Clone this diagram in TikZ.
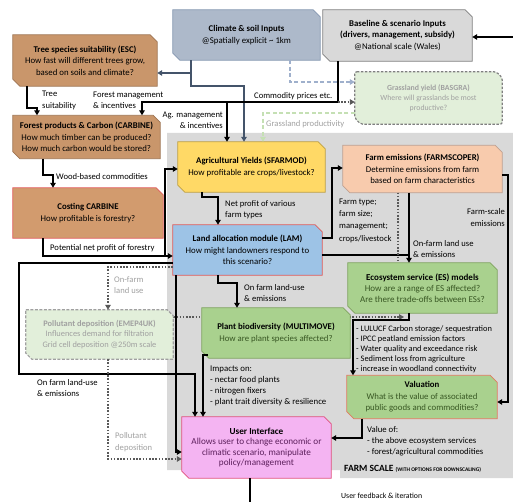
\documentclass[tikz,border=0pt]{standalone}
\usepackage{fontspec}
\setmainfont{Carlito}
\usetikzlibrary{arrows.meta,calc}
\pgfdeclarelayer{back}\pgfdeclarelayer{mid}\pgfsetlayers{back,mid,main}
\definecolor{climF}{HTML}{ADB9CA}\definecolor{climD}{HTML}{8497B0}
\definecolor{baseF}{HTML}{D9D9D9}\definecolor{baseD}{HTML}{7F7F7F}
\definecolor{treeF}{HTML}{C9966B}\definecolor{treeD}{HTML}{9E7452}
\definecolor{costF}{HTML}{D29B6E}\definecolor{redD}{HTML}{E05A5A}
\definecolor{yelF}{HTML}{FFD966}\definecolor{yelD}{HTML}{BFA040}
\definecolor{peachF}{HTML}{F8CBAD}\definecolor{peachD}{HTML}{C0A090}
\definecolor{lamF}{HTML}{9DC3E6}
\definecolor{grnF}{HTML}{A9D18E}\definecolor{grnD}{HTML}{7FA35E}
\definecolor{valD}{HTML}{E07A5F}
\definecolor{uiF}{HTML}{F4B4F2}\definecolor{uiD}{HTML}{E0507E}
\definecolor{paleF}{HTML}{E2EFDA}
\definecolor{farm}{HTML}{D9D9D9}
\definecolor{blueline}{HTML}{44546A}\definecolor{bluedash}{HTML}{9FB0CC}
\definecolor{greendash}{HTML}{C5E0B4}\definecolor{dotc}{HTML}{595959}
\definecolor{grtxt}{HTML}{A0A0A0}\definecolor{dgreen}{HTML}{385723}
\definecolor{dpurple}{HTML}{5C1F5C}
\newcommand\boxfont{\fontsize{8.8}{11.5}\selectfont}
\newcommand\lblfont{\fontsize{8.6}{11.5}\selectfont}
\newcommand\smallfont{\fontsize{8.4}{10.1}\selectfont}
\newcommand\cham[4]{%
 \path[#2] (#1.north west) -- ([xshift=-#3pt]#1.north east) -- ([yshift=-#3pt]#1.north east)
  -- (#1.south east) -- ([xshift=#4pt]#1.south west) -- ([yshift=#4pt]#1.south west) -- cycle;}
\begin{document}
\begin{tikzpicture}[x=1pt,y=-1pt,
 box/.style={rectangle, inner sep=0pt, align=center, font=\boxfont},
 lbl/.style={inner sep=0pt, align=left, anchor=west, font=\lblfont},
 rlbl/.style={inner sep=0pt, align=right, anchor=east, font=\lblfont},
 blk/.style={line width=1.8pt, draw=black},
 arr/.style={-{Triangle[length=5pt,width=5.5pt]}},
 bl/.style={line width=1.4pt, draw=blueline},
 bld/.style={line width=1.5pt, draw=bluedash, dash pattern=on 4pt off 2.5pt},
 gd/.style={line width=1.5pt, draw=greendash, dash pattern=on 4pt off 2.5pt},
 dot/.style={line width=1.6pt, draw=dotc, dash pattern=on 1.6pt off 1.6pt},
 solidbox/.style={line width=0.8pt},
]
\useasboundingbox (0,0) rectangle (513,502);

% ---------- boxes ----------
\node[box, minimum width=147pt, minimum height=50pt] (clim) at (246.5,35)
 {\textbf{Climate \& soil Inputs}\\@Spatially explicit \textasciitilde\ 1km};
\node[box, minimum width=149pt, minimum height=51pt] (base) at (397.5,35.5)
 {\textbf{Baseline \& scenario Inputs}\\\textbf{(drivers, management, subsidy)}\\@National scale (Wales)};
\node[box, minimum width=144pt, minimum height=51pt] (esc) at (85,60.5)
 {\textbf{Tree species suitability (ESC)}\\How fast will different trees grow,\\based on soils and climate?};
\node[box, minimum width=147pt, minimum height=43pt] (carb) at (86.5,137)
 {\textbf{Forest products \& Carbon (CARBINE)}\\How much timber can be produced?\\How much carbon would be stored?};
\node[box, minimum width=150pt, minimum height=50pt] (cost) at (88,213)
 {\textbf{Costing CARBINE}\\How profitable is forestry?};
\node[box, minimum width=147pt, minimum height=50pt] (sfar) at (251.5,167)
 {\textbf{Agricultural Yields (SFARMOD)}\\How profitable are crops/livestock?};
\node[box, minimum width=159pt, minimum height=47pt] (fems) at (422.5,169)
 {\textbf{Farm emissions (FARMSCOPER)}\\Determine emissions from farm\\based on farm characteristics};
\node[box, minimum width=149pt, minimum height=50pt] (lam) at (247.5,250)
 {\textbf{Land allocation module (LAM)}\\How might landowners respond to\\this scenario?};
\node[box, minimum width=149pt, minimum height=50pt, font=\fontsize{9}{11.2}\selectfont] (es) at (422.5,288)
 {\textbf{Ecosystem service (ES) models}\\\textcolor{dgreen}{How are a range of ES affected?}\\\textcolor{dgreen}{Are there trade-offs between ESs?}};
\node[box, minimum width=148pt, minimum height=50pt] (pb) at (276,333)
 {\textbf{Plant biodiversity (MULTIMOVE)}\\\textcolor{dgreen}{How are plant species affected?}};
\node[box, minimum width=150pt, minimum height=43pt] (val) at (422,397)
 {\textbf{Valuation}\\\textcolor{dgreen}{What is the value of associated}\\\textcolor{dgreen}{public goods and commodities?}};
\node[box, minimum width=149pt, minimum height=61pt, font=\fontsize{9.2}{10.6}\selectfont] (ui) at (256.5,447.5)
 {\textbf{User Interface}\\\textcolor{dpurple}{Allows user to change economic or}\\\textcolor{dpurple}{climatic scenario, manipulate}\\\textcolor{dpurple}{policy/management}};
\node[box, minimum width=147pt, minimum height=52pt, text=grtxt, font=\fontsize{7.8}{10.2}\selectfont] (grass) at (428.5,98)
 {\textbf{Grassland yield (BASGRA)}\\Where will grasslands be most\\productive?};
\node[box, minimum width=147pt, minimum height=49pt, text=grtxt, font=\fontsize{8.4}{10.8}\selectfont] (poll) at (99.5,334.5)
 {\textbf{Pollutant deposition (EMEP4UK)}\\Influences demand for filtration\\Grid cell deposition @250m scale};

\begin{pgfonlayer}{back}
 \fill[farm] (167,133) -- (513,133) -- (513,478) -- (340,478) -- (340,470) -- (167,470) -- cycle;
 \coordinate (x1) at (404,317);
 \draw[dot,arr] (poll.east |- x1) -- (x1);
\end{pgfonlayer}
\begin{pgfonlayer}{mid}
 \cham{clim}{fill=climF,draw=climD,solidbox}{7}{7}
 \cham{base}{fill=baseF,draw=baseD,solidbox}{7}{7}
 \cham{esc}{fill=treeF,draw=treeD,solidbox}{7}{7}
 \cham{carb}{fill=treeF,draw=treeD,solidbox}{7}{7}
 \cham{cost}{fill=costF,draw=redD,solidbox}{7}{0}
 \cham{sfar}{fill=yelF,draw=yelD,solidbox}{7}{7}
 \cham{fems}{fill=peachF,draw=peachD,solidbox}{7}{7}
 \cham{lam}{fill=lamF,draw=redD,solidbox}{7}{0}
 \cham{es}{fill=grnF,draw=grnD,solidbox}{7}{7}
 \cham{pb}{fill=grnF,draw=grnD,solidbox}{7}{7}
 \cham{val}{fill=grnF,draw=valD,solidbox}{7}{7}
 \cham{ui}{fill=uiF,draw=uiD,solidbox}{7}{7}
 \cham{grass}{fill=paleF,draw=baseD,line width=1.2pt,dash pattern=on 2.5pt off 1.5pt,rounded corners=2pt}{6}{6}
 \cham{poll}{fill=paleF,draw=grtxt,line width=1.2pt,dash pattern=on 3pt off 1.5pt}{6}{6}
\end{pgfonlayer}

% ---------- labels ----------
\node[lbl] (l1) at (42,100.5) {Tree\\suitability};
\node[lbl] (l2) at (93,100.5) {Forest management\\\& incentives};
\node[rlbl] (l3) at (223,120.5) {Ag. management\\\& incentives};
\node[lbl] (l4) at (254,96) {Commodity prices etc.};
\node[lbl, text=grtxt] (l5) at (266,124) {Grassland productivity};
\node[lbl] (l6) at (56,177) {Wood-based commodities};
\node[lbl] (l7) at (50,248) {Potential net profit of forestry};
\node[lbl] (l8) at (225,209.5) {Net profit of various\\farm types};
\node[lbl, font=\fontsize{8.6}{12.3}\selectfont] (l9) at (339,220.5) {Farm type;\\farm size;\\management;\\crops/livestock};
\node[lbl] (l10) at (413,249) {On-farm land use\\\& emissions};
\node[rlbl] (l11) at (505,217.5) {Farm-scale\\emissions};
\node[lbl] (l12) at (244,293) {On farm land-use\\\& emissions};
\node[lbl, text=grtxt] (l13) at (114,285) {On-farm\\land use};
\node[lbl] (l14) at (37,388) {On farm land-use\\\& emissions};
\node[lbl, text=grtxt] (l15) at (115,442) {Pollutant\\deposition};
\node[lbl, font=\fontsize{8.8}{10.8}\selectfont] (l16) at (210,386) {Impacts on:\\- nectar food plants\\- nitrogen fixers\\- plant trait diversity \& resilience};
\node[lbl, font=\smallfont] (l17) at (356,349) {- LULUCF Carbon storage/ sequestration\\- IPCC peatland emission factors\\- Water quality and exceedance risk\\- Sediment loss from agriculture\\- increase in woodland connectivity};
\node[lbl, font=\fontsize{8.7}{10.8}\selectfont] (l18) at (367,441) {Value of:\\- the above ecosystem services\\- forest/agricultural commodities};
\node[lbl] (l19) at (344,469) {\fontsize{9.5}{11}\selectfont\textbf{FARM SCALE} \fontsize{5.5}{6}\selectfont\textbf{(WITH OPTIONS FOR DOWNSCALING)}};
\node[lbl, font=\fontsize{7.8}{10}\selectfont] (l20) at (341,496) {User feedback \& iteration};

% ---------- connectors ----------
% climate
\coordinate (cb1) at (191,73); \coordinate (cb2) at (191,86); \coordinate (cb3) at (244,86);
\draw[bl,arr] (clim.south -| cb1) -- (cb1) -- (cb1 -| esc.east);
\draw[bl,arr] (cb1) -- (cb2) -- (cb3) -- (cb3 |- sfar.north);
\coordinate (cd1) at (290,82);
\draw[bld,arr] (clim.south -| cd1) -- (cd1) -- (cd1 -| grass.west);
% baseline
\coordinate (r1) at (513,37);
\draw[blk,arr] (r1) -- (r1 -| base.east);
\coordinate (k1) at (338,102); \coordinate (k2) at (142,102); \coordinate (k3) at (227,102);
\draw[blk,arr] (base.south -| k1) -- (k1) -- (k2) -- (k2 |- carb.north);
\draw[blk,arr] (k3) -- (k3 |- sfar.north);
\draw[dot,arr] (k1) -- (k1 -| grass.west);
% grassland
\coordinate (g1) at (263,113);
\draw[gd,arr] (g1 -| grass.west) -- (g1) -- (g1 |- sfar.north);
% forestry chain
\coordinate (t1) at (27,108); \coordinate (t2) at (37,108);
\draw[blk,arr] (esc.south -| t1) -- (t1) -- (t2) -- (t2 |- carb.north);
\coordinate (w1) at (43,175); \coordinate (w2) at (53,175);
\draw[blk,arr] (carb.south -| w1) -- (w1) -- (w2) -- (w2 |- cost.north);
\coordinate (p1) at (43,256); \coordinate (p2) at (165,256); \coordinate (p3) at (165,169);
\draw[blk,arr] (cost.south -| p1) -- (p1) -- (p1 -| lam.west);
\draw[blk,arr] (p2) -- (p3) -- (p3 -| sfar.west);
% sfarmod -> lam
\coordinate (n1) at (202,197); \coordinate (n2) at (218,197);
\draw[blk,arr] (sfar.south -| n1) -- (n1) -- (n2) -- (n2 |- lam.north);
% lam -> farm emissions
\coordinate (f1) at (332,238); \coordinate (f2) at (332,168);
\draw[blk,arr] (f1 -| lam.east) -- (f1) -- (f2) -- (f2 -| fems.west);
% lam -> ES, fems -> ES
\coordinate (e1) at (409,255);
\draw[blk,arr] (e1 -| lam.east) -- (e1) -- (e1 |- es.north);
\draw[blk] (fems.south -| e1) -- (e1);
\coordinate (d1) at (398,200);
\draw[dot] (fems.south -| d1) -- (d1 |- es.north);
% farm-scale emissions -> valuation
\coordinate (fs1) at (508,175); \coordinate (fs2) at (508,402);
\draw[blk,arr] (fs1 -| fems.east) -- (fs1) -- (fs2) -- (fs2 -| val.east);
% ES -> valuation
\coordinate (ev1) at (409,320); \coordinate (ev2) at (353,320);
\draw[blk,arr] (es.south -| ev1) -- (ev1) -- (ev2) -- (ev2 |- val.north);
% lam -> plant biodiversity
\coordinate (lp1) at (218,283); \coordinate (lp2) at (237,283);
\draw[blk,arr] (lam.south -| lp1) -- (lp1) -- (lp2) -- (lp2 |- pb.north);
% lam -> pollutant (dotted)
\coordinate (o1) at (108,267);
\draw[dot,arr] (o1 -| lam.west) -- (o1) -- (o1 |- poll.north);
% lam loop -> UI
\coordinate (L1) at (19,263); \coordinate (L2) at (19,374); \coordinate (L3) at (195,374);
\draw[blk,arr] (L1 -| lam.west) -- (L1) -- (L2) -- (L3) -- (L3 |- ui.north);
\coordinate (u1) at (176,452);
\draw[blk,arr] (lam.south -| u1) -- (u1) -- (u1 -| ui.west);
% plant biodiversity -> UI
\coordinate (pu0) at (208,355); \coordinate (pu1) at (203,355);
\draw[blk,arr] (pu0) -- (pu1) -- (pu1 |- ui.north);
% pollutant -> UI
\coordinate (q1) at (108,459);
\draw[dot,arr] (poll.south -| q1) -- (q1) -- (q1 -| ui.west);
% valuation -> UI
\coordinate (v1) at (362,438);
\draw[blk,arr] (val.south -| v1) -- (v1) -- (v1 -| ui.east);
% UI feedback
\coordinate (z1) at (250,502);
\draw[blk] (ui.south -| z1) -- (z1);
\end{tikzpicture}
\end{document}
